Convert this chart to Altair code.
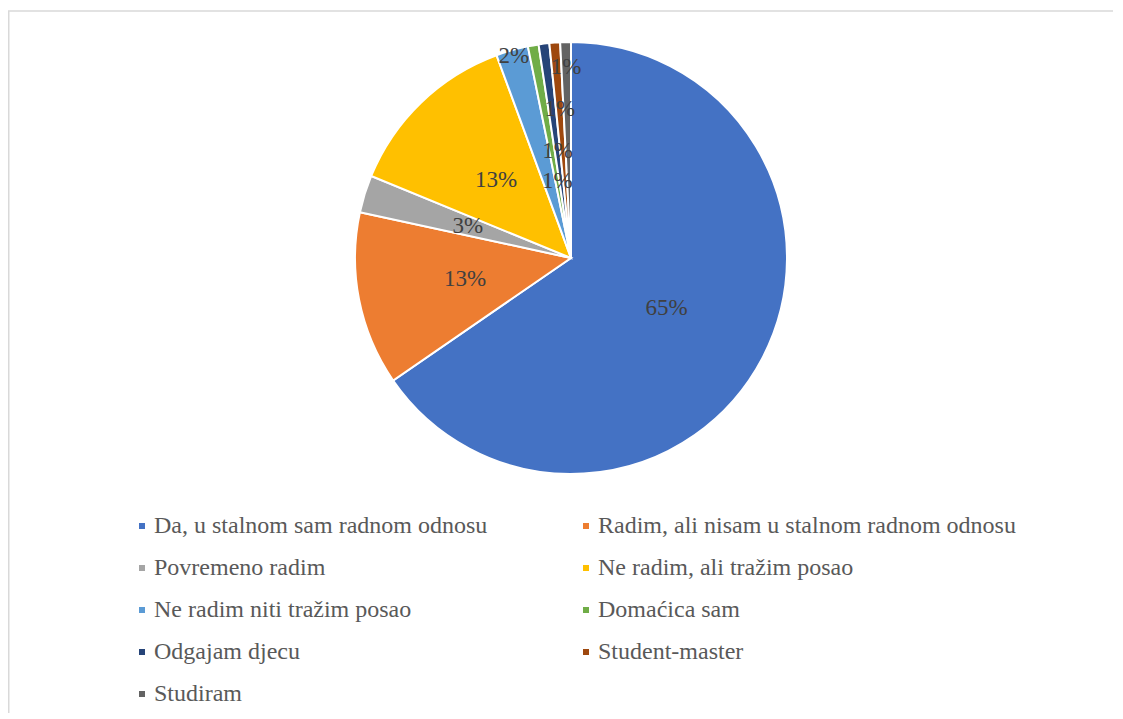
import altair as alt
import pandas as pd

categories = [
    "Da, u stalnom sam radnom odnosu",
    "Radim, ali nisam u stalnom radnom odnosu",
    "Povremeno radim",
    "Ne radim, ali tražim posao",
    "Ne radim niti tražim posao",
    "Domaćica sam",
    "Odgajam djecu",
    "Student-master",
    "Studiram",
]
shares = [65.4, 13.0, 2.8, 13.2, 2.4, 0.8, 0.8, 0.8, 0.8]
colors = ["#4472C4", "#ED7D31", "#A5A5A5", "#FFC000", "#5B9BD5",
          "#70AD47", "#264478", "#9E480E", "#636363"]
# label distance from centre as a fraction of the radius (style)
label_ring = [0.5, 0.5, 0.5, 0.5, 0.97, 0.36, 0.5, 0.69, 0.885]

FONT = "'Liberation Serif', 'Times New Roman', Times, serif"
W, H = 1105, 705
R = 216
CX, CY = 563, 250

df = pd.DataFrame({
    "category": categories,
    "share": shares,
    "idx": list(range(len(categories))),
    "ring": label_ring,
})

arcs = alt.Chart(df).mark_arc(outerRadius=R, stroke="white", strokeWidth=2).encode(
    theta=alt.Theta("share:Q", stack=True),
    color=alt.Color(
        "category:N",
        scale=alt.Scale(domain=categories, range=colors),
        sort=categories,
        legend=alt.Legend(
            orient="none",
            legendX=122,
            legendY=506,
            direction="horizontal",
            columns=2,
            title=None,
            symbolType="square",
            symbolSize=36,
            symbolStrokeWidth=0,
            labelFont=FONT,
            labelFontSize=24,
            labelColor="#595959",
            labelOffset=0,
            labelLimit=600,
            columnPadding=86,
            rowPadding=18,
            padding=0,
        ),
    ),
    order=alt.Order("idx:Q"),
    x=alt.value(CX),
    y=alt.value(CY),
)

labels = alt.Chart(df).transform_joinaggregate(
    total="sum(share)"
).transform_window(
    cum="sum(share)", sort=[alt.SortField("idx")]
).transform_calculate(
    pct="datum.share / datum.total",
    mid="2 * PI * (datum.cum - datum.share / 2) / datum.total",
    lr=f"datum.ring * {R}",
).mark_text(
    font=FONT, fontSize=23, color="#404040"
).encode(
    theta=alt.Theta("mid:Q", scale=None),
    radius=alt.Radius("lr:Q", scale=None),
    text=alt.Text("pct:Q", format=".0%"),
    x=alt.value(CX),
    y=alt.value(CY),
)

frame_src = alt.Chart(alt.Data(values=[{"a": 1}]))
top_line = frame_src.mark_rule(color="#d9d9d9", strokeWidth=1.5).encode(
    x=alt.value(0), x2=alt.value(W), y=alt.value(3)
)
left_line = frame_src.mark_rule(color="#d9d9d9", strokeWidth=1.5).encode(
    x=alt.value(0.75), y=alt.value(3), y2=alt.value(H)
)

chart = alt.layer(top_line, left_line, arcs, labels).properties(
    width=W, height=H, padding=0, autosize=alt.AutoSizeParams(type="none")
).configure_view(stroke=None)

chart.save("out.html", embed_options={"renderer": "svg", "actions": False})
